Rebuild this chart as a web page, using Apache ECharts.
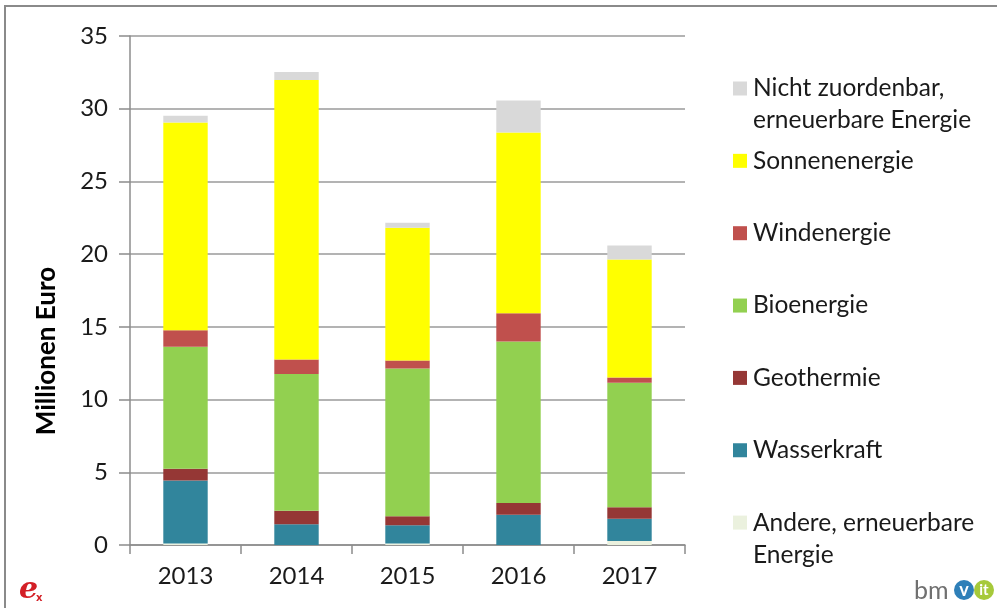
<!DOCTYPE html>
<html>
<head>
<meta charset="utf-8">
<script src="https://cdn.jsdelivr.net/npm/echarts@6/dist/echarts.min.js"></script>
<style>
  html, body { margin: 0; padding: 0; background: #fff; }
  #chart { width: 997px; height: 608px; }
</style>
</head>
<body>
<div id="chart"></div>
<script>
// Förderung erneuerbarer Energien, Millionen Euro je Jahr
const years = ['2013', '2014', '2015', '2016', '2017'];
const yTicks = { min: 0, max: 35, step: 5 };

// Stapelreihenfolge von unten nach oben
const andere      = [0.10, 0.00, 0.10, 0.00, 0.28];
const wasserkraft = [4.34, 1.43, 1.26, 2.08, 1.52];
const geothermie  = [0.80, 0.92, 0.62, 0.80, 0.80];
const bioenergie  = [8.39, 9.40, 10.16, 11.12, 8.56];
const windenergie = [1.14, 1.01, 0.55, 1.94, 0.36];
const sonne       = [14.29, 19.21, 9.13, 12.43, 8.12];
const nicht       = [0.46, 0.55, 0.34, 2.20, 0.96];

const seriesDefs = [
  { name: 'Andere, erneuerbare Energie', label: 'Andere, erneuerbare\nEnergie', data: andere, color: '#EBF1DE' },
  { name: 'Wasserkraft', label: 'Wasserkraft', data: wasserkraft, color: '#31859C' },
  { name: 'Geothermie', label: 'Geothermie', data: geothermie, color: '#953735' },
  { name: 'Bioenergie', label: 'Bioenergie', data: bioenergie, color: '#92D050' },
  { name: 'Windenergie', label: 'Windenergie', data: windenergie, color: '#C0504D' },
  { name: 'Sonnenenergie', label: 'Sonnenenergie', data: sonne, color: '#FFFF00' },
  { name: 'Nicht zuordenbar, erneuerbare Energie', label: 'Nicht zuordenbar,\nerneuerbare Energie', data: nicht, color: '#D9D9D9' }
];

const FONT = 'Lato, "Open Sans", sans-serif';
const LINE_H = 32;
const legendFirstY = 88.5;
const legendStep = 72.35;

// Legende: von oben (Nicht zuordenbar) nach unten (Andere)
const legendOrder = seriesDefs.slice().reverse();
const legends = legendOrder.map((s, i) => {
  const cy = legendFirstY + legendStep * i;
  const multi = s.label.indexOf('\n') >= 0;
  // bei zweizeiligen Einträgen eine Leerzeile voranstellen, damit die erste Zeile neben dem Symbol steht
  const lines = multi ? 3 : 1;
  return {
    data: [s.name],
    left: 733,
    top: cy - (lines * LINE_H) / 2,
    orient: 'vertical',
    icon: 'rect',
    itemWidth: 14,
    itemHeight: 14,
    itemGap: 0,
    padding: 0,
    selectedMode: false,
    formatter: () => (multi ? '\n' + s.label : s.label),
    textStyle: { fontFamily: FONT, fontSize: 24.5, color: '#1a1a1a', lineHeight: LINE_H, padding: [0, 0, 0, 1] }
  };
});

const chart = echarts.init(document.getElementById('chart'), null, { renderer: 'canvas' });

chart.setOption({
  animation: false,
  backgroundColor: '#ffffff',
  grid: { left: 130, right: 312, top: 36, bottom: 63, containLabel: false },
  legend: legends,
  xAxis: {
    type: 'category',
    data: years,
    axisLine: { lineStyle: { color: '#8c8c8c', width: 1.5 } },
    axisTick: { show: true, alignWithLabel: false, length: 9, lineStyle: { color: '#8c8c8c', width: 1.5 } },
    axisLabel: { margin: 19, fontFamily: FONT, fontSize: 24, color: '#1a1a1a' }
  },
  yAxis: {
    type: 'value',
    min: yTicks.min,
    max: yTicks.max,
    interval: yTicks.step,
    axisLine: { show: true, lineStyle: { color: '#8c8c8c', width: 1.5 } },
    axisTick: { show: true, length: 11, lineStyle: { color: '#8c8c8c', width: 1.5 } },
    axisLabel: { margin: 22, fontFamily: FONT, fontSize: 24, color: '#1a1a1a' },
    splitLine: { show: true, lineStyle: { color: '#9a9a9a', width: 1.5 } }
  },
  series: seriesDefs.map(s => ({
    name: s.name,
    type: 'bar',
    stack: 'gesamt',
    barWidth: '40%',
    data: s.data,
    itemStyle: { color: s.color },
    emphasis: { disabled: true }
  })),
  graphic: [
    // Rahmen oben und links
    { type: 'line', shape: { x1: 4, y1: 6, x2: 997, y2: 6 }, style: { stroke: '#8a8a8a', lineWidth: 2 } },
    { type: 'line', shape: { x1: 5, y1: 5, x2: 5, y2: 608 }, style: { stroke: '#8a8a8a', lineWidth: 2 } },
    // Achsentitel
    {
      type: 'text', x: 47, y: 351, rotation: Math.PI / 2,
      style: { text: 'Millionen Euro', fontFamily: FONT, fontSize: 26, fontWeight: 'bold', fill: '#000', align: 'center', verticalAlign: 'middle' }
    },
    // Logo links unten
    {
      type: 'text', x: 19, y: 590,
      style: { text: 'e', fontFamily: '"DejaVu Serif", serif', fontSize: 30, fontStyle: 'italic', fontWeight: 'bold', fill: '#d31f26', verticalAlign: 'middle' }
    },
    {
      type: 'text', x: 36, y: 598,
      style: { text: 'x', fontFamily: '"DejaVu Sans", sans-serif', fontSize: 10, fontWeight: 'bold', fill: '#d31f26', verticalAlign: 'middle' }
    },
    // Logo rechts unten
    {
      type: 'text', x: 914, y: 591,
      style: { text: 'bm', fontFamily: FONT, fontSize: 25, fill: '#707070', verticalAlign: 'middle' }
    },
    { type: 'circle', shape: { cx: 964, cy: 590, r: 10 }, style: { fill: '#2e7fb8' } },
    {
      type: 'text', x: 964, y: 590,
      style: { text: 'v', fontFamily: FONT, fontSize: 18, fontWeight: 'bold', fill: '#fff', align: 'center', verticalAlign: 'middle' }
    },
    { type: 'circle', shape: { cx: 984, cy: 590, r: 10 }, style: { fill: '#a6c93a' } },
    {
      type: 'text', x: 984, y: 590,
      style: { text: 'it', fontFamily: FONT, fontSize: 15, fontWeight: 'bold', fill: '#fff', align: 'center', verticalAlign: 'middle' }
    }
  ]
});
</script>
</body>
</html>
